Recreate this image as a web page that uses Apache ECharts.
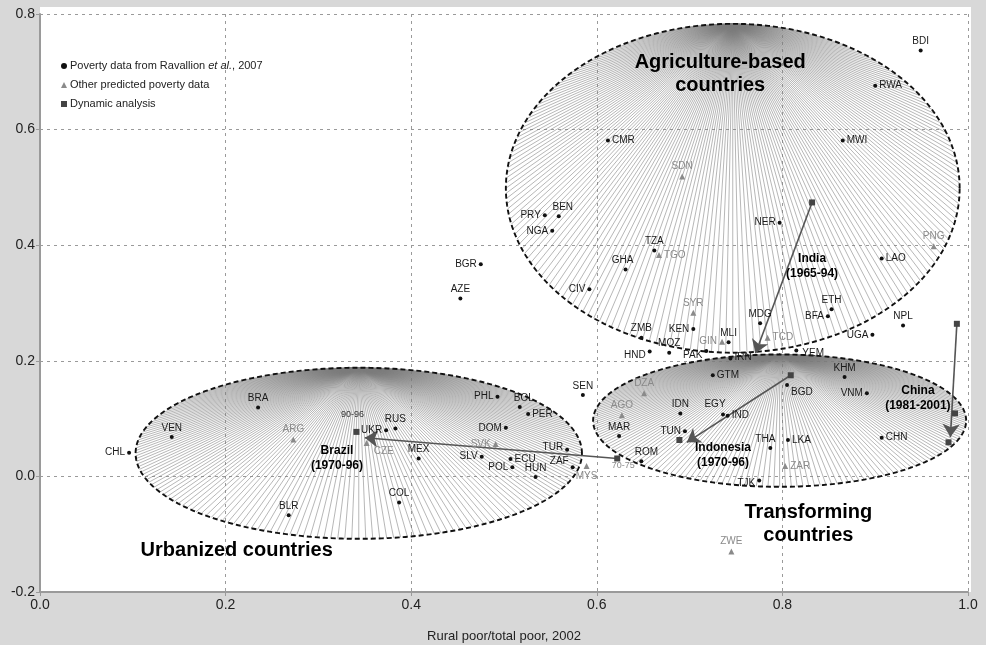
<!DOCTYPE html>
<html lang="en">
<head>
<meta charset="UTF-8">
<script src="https://cdn.jsdelivr.net/npm/echarts@6/dist/echarts.min.js"></script>
<style>
    html, body { margin: 0; padding: 0; background: #d8d8d8; }
    #chart { width: 986px; height: 645px; }
</style>
</head>
<body>
<div id="chart"></div>
<script>
    // [rural share of poor, change, country]
    var ravallionPoints = [
        [0.949, 0.737, 'BDI'], [0.900, 0.676, 'RWA'], [0.865, 0.581, 'MWI'], [0.612, 0.581, 'CMR'],
        [0.544, 0.452, 'PRY'], [0.559, 0.450, 'BEN'], [0.552, 0.425, 'NGA'], [0.797, 0.439, 'NER'],
        [0.662, 0.391, 'TZA'], [0.631, 0.358, 'GHA'], [0.475, 0.367, 'BGR'], [0.453, 0.308, 'AZE'],
        [0.592, 0.324, 'CIV'], [0.907, 0.377, 'LAO'], [0.853, 0.289, 'ETH'], [0.849, 0.277, 'BFA'],
        [0.930, 0.261, 'NPL'], [0.897, 0.245, 'UGA'], [0.776, 0.265, 'MDG'], [0.704, 0.255, 'KEN'],
        [0.648, 0.240, 'ZMB'], [0.742, 0.232, 'MLI'], [0.678, 0.214, 'MOZ'], [0.657, 0.216, 'HND'],
        [0.718, 0.217, 'PAK'], [0.744, 0.204, 'IRN'], [0.815, 0.218, 'YEM'], [0.725, 0.175, 'GTM'],
        [0.867, 0.172, 'KHM'], [0.805, 0.158, 'BGD'], [0.891, 0.144, 'VNM'], [0.690, 0.109, 'IDN'],
        [0.736, 0.107, 'EGY'], [0.741, 0.105, 'IND'], [0.624, 0.070, 'MAR'], [0.695, 0.078, 'TUN'],
        [0.648, 0.026, 'ROM'], [0.787, 0.049, 'THA'], [0.806, 0.063, 'LKA'], [0.775, -0.007, 'TJK'],
        [0.907, 0.067, 'CHN'], [0.585, 0.141, 'SEN'], [0.493, 0.138, 'PHL'], [0.517, 0.120, 'BOL'],
        [0.526, 0.108, 'PER'], [0.502, 0.084, 'DOM'], [0.476, 0.034, 'SLV'], [0.507, 0.030, 'ECU'],
        [0.509, 0.016, 'POL'], [0.534, -0.001, 'HUN'], [0.568, 0.046, 'TUR'], [0.574, 0.016, 'ZAF'],
        [0.096, 0.041, 'CHL'], [0.142, 0.068, 'VEN'], [0.235, 0.119, 'BRA'], [0.373, 0.080, 'UKR'],
        [0.383, 0.083, 'RUS'], [0.408, 0.031, 'MEX'], [0.387, -0.045, 'COL'], [0.268, -0.067, 'BLR']
    ];
    var predictedPoints = [
        [0.692, 0.519, 'SDN'], [0.667, 0.383, 'TGO'], [0.963, 0.398, 'PNG'], [0.704, 0.283, 'SYR'],
        [0.735, 0.233, 'GIN'], [0.784, 0.240, 'TCD'], [0.651, 0.144, 'DZA'], [0.627, 0.106, 'AGO'],
        [0.803, 0.018, 'ZAR'], [0.273, 0.064, 'ARG'], [0.352, 0.058, 'CZE'], [0.491, 0.056, 'SVK'],
        [0.589, 0.018, 'MYS'], [0.745, -0.130, 'ZWE']
    ];
    var dynamicPoints = [
        [0.832, 0.474, ''], [0.622, 0.031, '70-75'], [0.341, 0.077, '90-96'],
        [0.809, 0.175, ''], [0.689, 0.063, ''],
        [0.988, 0.264, ''], [0.986, 0.109, ''], [0.979, 0.059, '']
    ];
    // from [x, y] to [x, y]
    var trajectories = [
        [0.832, 0.474, 0.771, 0.213],
        [0.622, 0.031, 0.350, 0.067],
        [0.809, 0.175, 0.697, 0.059],
        [0.988, 0.264, 0.981, 0.068]
    ];
    // centre x, centre y, half width, half height
    var groupEllipses = [
        [0.7465, 0.4985, 0.2445, 0.2845],
        [0.797, 0.0965, 0.201, 0.1145],
        [0.3435, 0.040, 0.2405, 0.148]
    ];
    var groupTitles = [
        [0.733, 0.697, 'Agriculture-based\ncountries'],
        [0.828, -0.082, 'Transforming\ncountries'],
        [0.212, -0.128, 'Urbanized countries']
    ];
    var trajectoryTitles = [
        [0.832, 0.364, 'India\n(1965-94)'],
        [0.320, 0.031, 'Brazil\n(1970-96)'],
        [0.736, 0.036, 'Indonesia\n(1970-96)'],
        [0.946, 0.135, 'China\n(1981-2001)']
    ];

    // where each label sits: [position, dx, dy]
    var labelPlace = {
        BDI: ['top'], RWA: ['right'], MWI: ['right'], CMR: ['right'], PRY: ['left'], BEN: ['top', 4, 0],
        NGA: ['left'], NER: ['left'], TZA: ['top'], GHA: ['top', -3, 0], BGR: ['left'], AZE: ['top'],
        CIV: ['left'], LAO: ['right'], ETH: ['top'], BFA: ['left'], NPL: ['top'], UGA: ['left'],
        MDG: ['top'], KEN: ['left'], ZMB: ['top'], MLI: ['top'], MOZ: ['top'], HND: ['left', 0, 4],
        PAK: ['left', 0, 4], IRN: ['right', 0, -1], YEM: ['right', 2, 3], GTM: ['right'], KHM: ['top'],
        BGD: ['right', 0, 7], VNM: ['left'], IDN: ['top'], EGY: ['top', -8, -1], IND: ['right'],
        MAR: ['top'], TUN: ['left'], ROM: ['top', 5, 0], THA: ['top', -5, 0], LKA: ['right'],
        TJK: ['left', 0, 3], CHN: ['right'], SEN: ['top'], PHL: ['left'], BOL: ['top', 4, 0],
        PER: ['right'], DOM: ['left'], SLV: ['left'], ECU: ['right'], POL: ['left'], HUN: ['top'],
        TUR: ['left', 0, -3], ZAF: ['left', 0, -6], CHL: ['left'], VEN: ['top'], BRA: ['top'],
        UKR: ['left'], RUS: ['top'], MEX: ['top'], COL: ['top'], BLR: ['top'],
        SDN: ['top'], TGO: ['right'], PNG: ['top'], SYR: ['top'], GIN: ['left'], TCD: ['right'],
        DZA: ['top'], AGO: ['top'], ZAR: ['right'], ARG: ['top'], CZE: ['right', 2, 8], SVK: ['left'],
        MYS: ['bottom'], ZWE: ['top'],
        '90-96': ['top', -4, -8], '70-75': ['bottom', 6, -2]
    };

    var FONT = '"Liberation Sans", Arial, sans-serif';
    var FAN_COUNT = 200;

    function pointItems(list) {
        return list.map(function (p) {
            var pl = labelPlace[p[2]] || ['top'];
            return {
                value: [p[0], p[1]],
                name: p[2],
                label: {position: pl[0], offset: [pl[1] || 0, pl[2] || 0]}
            };
        });
    }

    function textItems(list) {
        return list.map(function (p) {
            return {value: [p[0], p[1]], name: p[2]};
        });
    }

    var chart = echarts.init(document.getElementById('chart'), null, {renderer: 'canvas'});

    var option = {
        backgroundColor: '#d8d8d8',
        animation: false,
        textStyle: {fontFamily: FONT},
        grid: {
            left: 40, right: 18, top: 14, bottom: 53,
            show: true, backgroundColor: '#ffffff', borderWidth: 0,
            outerBoundsMode: 'none'
        },
        graphic: [
            {type: 'rect', left: 40, top: 7, shape: {width: 931, height: 7}, style: {fill: '#ffffff'}, silent: true},
            {type: 'rect', left: 968, top: 7, shape: {width: 3, height: 585}, style: {fill: '#ffffff'}, silent: true}
        ],
        legend: {
            orient: 'vertical',
            left: 56, top: 54,
            itemWidth: 6, itemHeight: 6, itemGap: 5,
            data: [
                {name: 'Poverty data from Ravallion et al., 2007', icon: 'circle'},
                {name: 'Other predicted poverty data', icon: 'triangle'},
                {name: 'Dynamic analysis', icon: 'rect'}
            ],
            formatter: function (name) {
                if (name.indexOf('Ravallion') >= 0) {
                    return '{n|Poverty data from Ravallion }{i|et al.}{n|, 2007}';
                }
                return '{n|' + name + '}';
            },
            textStyle: {
                fontSize: 11, color: '#222', lineHeight: 14, padding: [0, 0, 0, -2],
                rich: {
                    n: {fontSize: 11, color: '#222', fontFamily: FONT},
                    i: {fontSize: 11, color: '#222', fontStyle: 'italic', fontFamily: FONT}
                }
            }
        },
        xAxis: {
            type: 'value', min: 0, max: 1, interval: 0.2,
            name: 'Rural poor/total poor, 2002',
            nameLocation: 'middle', nameGap: 38,
            nameTextStyle: {fontSize: 13, color: '#222', fontFamily: FONT},
            axisLine: {show: true, onZero: false, lineStyle: {color: '#9a9a9a', width: 2}},
            axisTick: {show: true, length: 4, lineStyle: {color: '#9a9a9a'}},
            axisLabel: {
                fontSize: 14, color: '#222', margin: 6,
                formatter: function (v) { return v.toFixed(1); }
            },
            splitLine: {show: true, lineStyle: {color: '#9a9a9a', width: 1, type: [3, 4]}}
        },
        yAxis: {
            type: 'value', min: -0.2, max: 0.8, interval: 0.2,
            axisLine: {show: true, onZero: false, lineStyle: {color: '#9a9a9a', width: 2}},
            axisTick: {show: true, length: 4, lineStyle: {color: '#9a9a9a'}},
            axisLabel: {
                fontSize: 14, color: '#222', margin: 5,
                formatter: function (v) { return v.toFixed(1); }
            },
            splitLine: {show: true, lineStyle: {color: '#9a9a9a', width: 1, type: [3, 4]}}
        },
        series: [
            {
                // fan hatching inside each country-group ellipse
                type: 'custom',
                coordinateSystem: 'cartesian2d',
                silent: true,
                z: 1,
                encode: {x: 0, y: 1},
                data: groupEllipses,
                renderItem: function (params, api) {
                    var cx = api.value(0), cy = api.value(1), rx = api.value(2), ry = api.value(3);
                    var apex = api.coord([cx, cy + ry]);
                    var kids = [];
                    for (var i = 0; i < FAN_COUNT; i++) {
                        var t = 2 * Math.PI * i / FAN_COUNT;
                        var p = api.coord([cx + rx * Math.cos(t), cy + ry * Math.sin(t)]);
                        kids.push({
                            type: 'line',
                            shape: {x1: apex[0], y1: apex[1], x2: p[0], y2: p[1]},
                            style: {stroke: '#7a7a7a', lineWidth: 0.55}
                        });
                    }
                    var ring = [];
                    for (var j = 0; j < 240; j++) {
                        var s = 2 * Math.PI * j / 240;
                        ring.push(api.coord([cx + rx * Math.cos(s), cy + ry * Math.sin(s)]));
                    }
                    kids.push({
                        type: 'polygon',
                        shape: {points: ring},
                        style: {fill: 'none', stroke: '#111', lineWidth: 1.9, lineDash: [5, 3]}
                    });
                    return {type: 'group', children: kids};
                }
            },
            {
                type: 'lines',
                coordinateSystem: 'cartesian2d',
                silent: true,
                z: 4,
                symbol: ['none', 'arrow'],
                symbolSize: 13,
                lineStyle: {color: '#555', width: 1.6, opacity: 1, curveness: 0},
                data: trajectories.map(function (t) {
                    return {coords: [[t[0], t[1]], [t[2], t[3]]]};
                })
            },
            {
                name: 'Poverty data from Ravallion et al., 2007',
                type: 'scatter',
                z: 5,
                symbol: 'circle',
                symbolSize: 4,
                itemStyle: {color: '#111', opacity: 1},
                label: {show: true, formatter: '{b}', fontSize: 10, color: '#1a1a1a', distance: 2, fontFamily: FONT},
                data: pointItems(ravallionPoints)
            },
            {
                name: 'Other predicted poverty data',
                type: 'scatter',
                z: 5,
                symbol: 'triangle',
                symbolSize: 6,
                itemStyle: {color: '#8a8a8a', opacity: 1},
                label: {show: true, formatter: '{b}', fontSize: 10, color: '#8a8a8a', distance: 2, fontFamily: FONT},
                data: pointItems(predictedPoints)
            },
            {
                name: 'Dynamic analysis',
                type: 'scatter',
                z: 6,
                symbol: 'rect',
                symbolSize: 6,
                itemStyle: {color: '#444', opacity: 1},
                label: {
                    show: true, fontSize: 9, distance: 2, fontFamily: FONT,
                    formatter: '{b}',
                    color: '#333'
                },
                data: pointItems(dynamicPoints).map(function (d) {
                    if (d.name === '70-75') d.label.color = '#8a8a8a';
                    return d;
                })
            },
            {
                type: 'scatter',
                silent: true,
                z: 7,
                symbolSize: 0,
                itemStyle: {opacity: 1},
                label: {
                    show: true, position: 'inside', formatter: '{b}',
                    fontSize: 20, fontWeight: 'bold', color: '#000', lineHeight: 23, fontFamily: FONT,
                    textBorderWidth: 0, opacity: 1
                },
                data: textItems(groupTitles)
            },
            {
                type: 'scatter',
                silent: true,
                z: 7,
                symbolSize: 0,
                itemStyle: {opacity: 1},
                label: {
                    show: true, position: 'inside', formatter: '{b}',
                    fontSize: 12, fontWeight: 'bold', color: '#000', lineHeight: 15, fontFamily: FONT,
                    textBorderWidth: 0, opacity: 1
                },
                data: textItems(trajectoryTitles)
            }
        ]
    };

    chart.setOption(option);
</script>
</body>
</html>
